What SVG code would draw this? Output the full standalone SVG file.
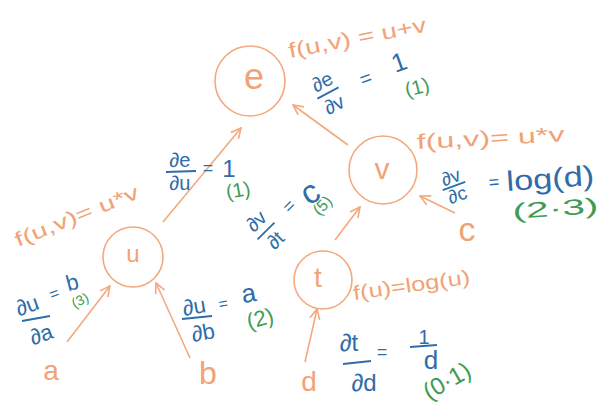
<svg xmlns="http://www.w3.org/2000/svg" width="602" height="413" viewBox="0 0 602 413">
<style>
text{font-family:"Liberation Sans","DejaVu Sans",sans-serif}
.o{fill:none;stroke:#F4A87E;stroke-width:1.6}
.ot{fill:#F2A277}
.b{fill:#2F6CA8}
.g{fill:#3E9C55}
.bar{stroke:#2F6CA8;stroke-width:1.8}
.m{text-anchor:middle}
</style>
<defs>
<marker id="ah" viewBox="0 0 12 12" refX="11" refY="6" markerWidth="12" markerHeight="12" markerUnits="userSpaceOnUse" orient="auto">
<path d="M1,1 L11,6 L1,11" fill="none" stroke="#F4A87E" stroke-width="1.6"/>
</marker>
</defs>
<rect width="602" height="413" fill="#fff"/>

<g id="connectors" class="o" marker-end="url(#ah)">
<path d="M67,342 L110,286"/>
<path d="M190,358 L156,283"/>
<path d="M163,222 L241,128"/>
<path d="M348,145 L293,105"/>
<path d="M335,240 L360,207"/>
<path d="M455,213 L420,196"/>
<path d="M305,362 L317,309"/>
</g>

<g id="node-e">
<circle class="o" cx="250" cy="81" r="35"/>
<text class="ot m" x="254" y="89" font-size="36">e</text>
<text class="ot" transform="translate(290,58) rotate(-11)" font-size="21" textLength="140" lengthAdjust="spacingAndGlyphs">f(u,v) = u+v</text>
</g>

<g id="node-v">
<circle class="o" cx="383" cy="170" r="34"/>
<text class="ot m" x="382" y="179" font-size="30">v</text>
<text class="ot" transform="translate(417,149) rotate(-3)" font-size="21" textLength="148" lengthAdjust="spacingAndGlyphs">f(u,v)= u*v</text>
</g>

<g id="node-u">
<circle class="o" cx="133" cy="257" r="30"/>
<text class="ot m" x="133" y="262" font-size="24">u</text>
<text class="ot" transform="translate(18,247) rotate(-22)" font-size="20" textLength="132" lengthAdjust="spacingAndGlyphs">f(u,v)= u*v</text>
</g>

<g id="node-t">
<circle class="o" cx="323" cy="280" r="29"/>
<text class="ot m" x="318" y="287" font-size="28">t</text>
<text class="ot" transform="translate(354,300) rotate(-8)" font-size="20" textLength="118" lengthAdjust="spacingAndGlyphs">f(u)=log(u)</text>
</g>

<g id="node-a"><text class="ot m" x="51" y="380" font-size="28">a</text></g>
<g id="node-b"><text class="ot m" x="208" y="384" font-size="32">b</text></g>
<g id="node-c"><text class="ot m" x="467" y="241" font-size="34">c</text></g>
<g id="node-d"><text class="ot m" x="309" y="391" font-size="28">d</text></g>

<g id="labels">
<!-- de/dv = 1 (1) -->
<g transform="translate(328,93) rotate(-28)">
<text class="b m" x="0" y="-6" font-size="20">∂e</text>
<line class="bar" x1="-12" y1="0" x2="12" y2="0"/>
<text class="b m" x="0" y="20" font-size="20">∂v</text>
</g>
<text class="b m" transform="translate(366,79) rotate(-20)" y="6" font-size="20">=</text>
<text class="b m" transform="translate(399,62) rotate(-20)" y="9" font-size="26">1</text>
<text class="g m" transform="translate(417,87) rotate(-15)" y="7" font-size="20">(1)</text>

<!-- dv/dc = log(d) (2.3) -->
<g transform="translate(454,186) rotate(-20)">
<text class="b m" x="0" y="-3" font-size="19">∂v</text>
<line class="bar" x1="-12" y1="0" x2="12" y2="0"/>
<text class="b m" x="0" y="16" font-size="19">∂c</text>
</g>
<text class="b m" transform="translate(494,182) rotate(-5)" y="6" font-size="18">=</text>
<text class="b" transform="translate(507,191) rotate(-4)" font-size="28" textLength="88" lengthAdjust="spacingAndGlyphs">log(d)</text>
<text class="g" transform="translate(513,219) rotate(-4)" font-size="22" textLength="86" lengthAdjust="spacingAndGlyphs">(2·3)</text>

<!-- de/du = 1 (1) -->
<text class="b m" x="180" y="167" font-size="20">∂e</text>
<line class="bar" x1="166" y1="172" x2="196" y2="171"/>
<text class="b m" x="180" y="190" font-size="20">∂u</text>
<text class="b m" x="208" y="174" font-size="18">=</text>
<text class="b m" x="229" y="177" font-size="24">1</text>
<text class="g m" transform="translate(238,190) rotate(-10)" y="7" font-size="20">(1)</text>

<!-- du/da = b (3) -->
<text class="b m" transform="translate(27,305) rotate(-20)" y="8" font-size="22">∂u</text>
<line class="bar" x1="22" y1="321" x2="50" y2="316"/>
<text class="b m" transform="translate(41,334) rotate(-20)" y="8" font-size="22">∂a</text>
<text class="b m" transform="translate(54,293) rotate(-20)" y="6" font-size="16">=</text>
<text class="b m" transform="translate(72,282) rotate(-15)" y="8" font-size="22">b</text>
<text class="g m" transform="translate(80,300) rotate(-25)" y="5" font-size="14">(3)</text>

<!-- du/db = a (2) -->
<text class="b m" transform="translate(194,306) rotate(-10)" y="8" font-size="22">∂u</text>
<line class="bar" x1="182" y1="319" x2="212" y2="316"/>
<text class="b m" transform="translate(203,332) rotate(-10)" y="8" font-size="22">∂b</text>
<text class="b m" transform="translate(223,303) rotate(-10)" y="6" font-size="16">=</text>
<text class="b m" transform="translate(249,295) rotate(-10)" y="7" font-size="26">a</text>
<text class="g m" transform="translate(260,318) rotate(-15)" y="8" font-size="22">(2)</text>

<!-- dv/dt = c (5) -->
<g transform="translate(266,231) rotate(-45)">
<text class="b m" x="0" y="-7" font-size="20">∂v</text>
<line class="bar" x1="-12" y1="0" x2="12" y2="0"/>
<text class="b m" x="0" y="20" font-size="20">∂t</text>
</g>
<text class="b m" transform="translate(289,206) rotate(-45)" y="6" font-size="18">=</text>
<text class="b m" transform="translate(311,194) rotate(-30)" y="9" font-size="33">c</text>
<text class="g m" transform="translate(322,205) rotate(-45)" y="6" font-size="16">(5)</text>

<!-- dt/dd = 1/d (0.1) -->
<text class="b m" x="349" y="351" font-size="24">∂t</text>
<line class="bar" x1="343" y1="364" x2="371" y2="361"/>
<text class="b m" x="364" y="391" font-size="24">∂d</text>
<text class="b m" x="382" y="358" font-size="18">=</text>
<text class="b m" x="424" y="344" font-size="20">1</text>
<line class="bar" x1="410" y1="347" x2="437" y2="345"/>
<text class="b m" x="431" y="369" font-size="26">d</text>
<text class="g m" transform="translate(447,381) rotate(-30)" y="8" font-size="24">(0·1)</text>
</g>
</svg>
